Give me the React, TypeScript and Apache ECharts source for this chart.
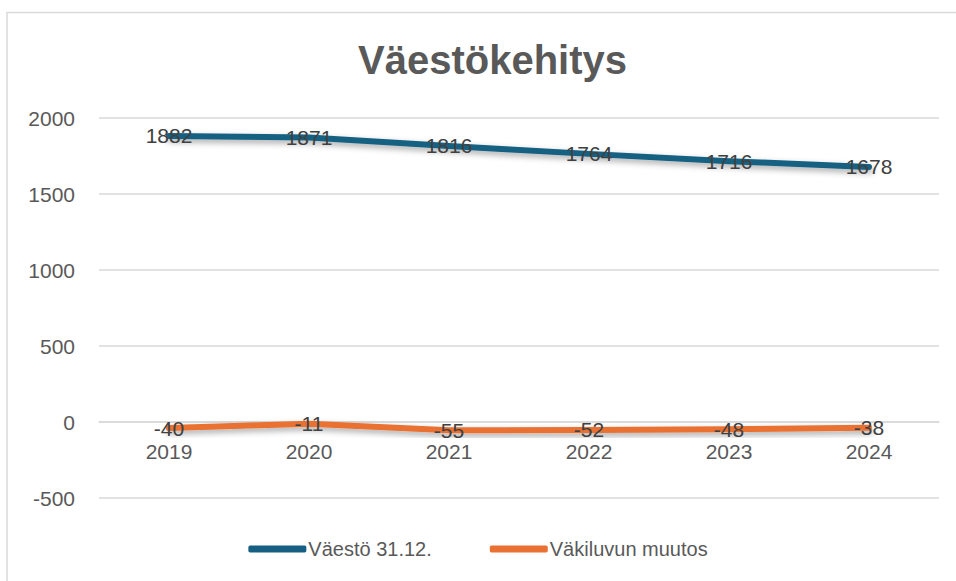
import React, { useEffect, useRef } from "react";
import * as echarts from "echarts";

const categories = ["2019", "2020", "2021", "2022", "2023", "2024"];
const population = [1882, 1871, 1816, 1764, 1716, 1678];
const change = [-40, -11, -55, -52, -48, -38];
const seriesNames = ["Väestö 31.12.", "Väkiluvun muutos"];
const titleText = "Väestökehitys";

const FONT = "'Liberation Sans', Arial, sans-serif";

export default function App() {
  const ref = useRef<HTMLDivElement>(null);
  useEffect(() => {
    if (!ref.current) return;
    const chart = echarts.init(ref.current, undefined, { renderer: "svg" });
    const lineShadow = {
      shadowColor: "rgba(0,0,0,0.35)",
      shadowBlur: 6,
      shadowOffsetX: 1,
      shadowOffsetY: 3,
    };
    const label = {
      show: true,
      position: "inside",
      color: "#404040",
      fontSize: 21,
      fontFamily: FONT,
    };
    chart.setOption({
      animation: false,
      backgroundColor: "#ffffff",
      title: {
        text: titleText,
        left: 353,
        top: 35,
        textStyle: { fontFamily: FONT, fontSize: 40, fontWeight: "bold", color: "#595959" },
      },
      graphic: [
        {
          type: "rect",
          shape: { x: 7, y: 12.5, width: 1000, height: 1000 },
          style: { fill: "none", stroke: "#d9d9d9", lineWidth: 1.5 },
          silent: true,
          z: -1,
        },
      ],
      legend: {
        bottom: 17,
        left: "center",
        itemWidth: 58,
        itemHeight: 7,
        itemGap: 58,
        icon: "roundRect",
        textStyle: { fontFamily: FONT, fontSize: 20, color: "#595959", padding: [0, 0, 0, -3] },
        data: seriesNames,
      },
      grid: { left: 99, right: 17, top: 118, bottom: 83 },
      xAxis: {
        type: "category",
        data: categories,
        boundaryGap: true,
        offset: -76,
        axisLine: { onZero: false, lineStyle: { color: "#d9d9d9", width: 1.5 } },
        axisTick: { show: false },
        axisLabel: { color: "#595959", fontSize: 21, fontFamily: FONT, margin: 19 },
      },
      yAxis: {
        type: "value",
        min: -500,
        max: 2000,
        interval: 500,
        axisLine: { show: false },
        axisTick: { show: false },
        splitLine: { lineStyle: { color: "#d9d9d9", width: 1.5 } },
        axisLabel: {
          color: "#595959",
          fontSize: 21,
          fontFamily: FONT,
          margin: 24,
          formatter: (v: number) => String(v),
        },
      },
      series: [
        {
          name: seriesNames[0],
          type: "line",
          data: population,
          symbol: "circle",
          symbolSize: 0,
          showSymbol: true,
          itemStyle: { color: "#156082" },
          lineStyle: { color: "#156082", width: 6, cap: "round", join: "round", ...lineShadow },
          label,
        },
        {
          name: seriesNames[1],
          type: "line",
          data: change,
          symbol: "circle",
          symbolSize: 0,
          showSymbol: true,
          itemStyle: { color: "#E97132" },
          lineStyle: { color: "#E97132", width: 6, cap: "round", join: "round", ...lineShadow },
          label,
        },
      ],
    });
    return () => chart.dispose();
  }, []);
  return (
    <div
      ref={ref}
      style={{ position: "fixed", left: 0, top: 0, width: 956, height: 581 }}
    />
  );
}
